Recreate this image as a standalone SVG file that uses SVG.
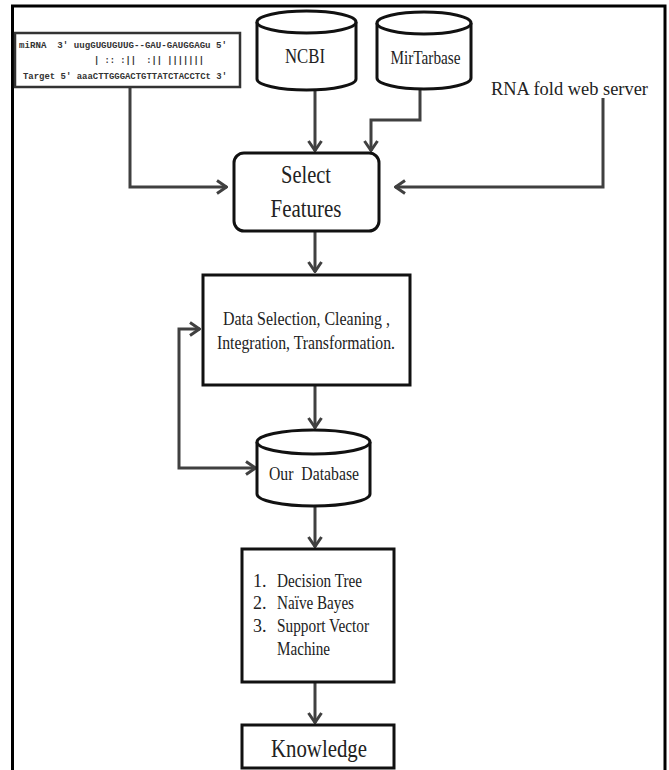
<svg xmlns="http://www.w3.org/2000/svg" width="669" height="770" viewBox="0 0 669 770">
<style>
.box{fill:#fff;stroke:#111;stroke-width:3}
.cyl{fill:#fff;stroke:#111;stroke-width:3}
.conn{fill:none;stroke:#404040;stroke-width:3}
.t{font-family:"Liberation Serif","Times New Roman",serif;fill:#222}
.m{font-family:"Liberation Mono","Courier New",monospace;font-weight:bold;font-size:9.5px;fill:#333}
</style>
<defs>
<marker id="ah" viewBox="0 0 12 16" refX="11" refY="8" markerWidth="12" markerHeight="16" markerUnits="userSpaceOnUse" orient="auto-start-reverse">
<path d="M1,1.5 L10.5,8 L1,14.5" fill="none" stroke="#404040" stroke-width="3"/>
</marker>
</defs>
<rect width="669" height="770" fill="#fff"/>
<path d="M12.5,775 V6 H665 V775" fill="none" stroke="#000" stroke-width="3"/>

<g id="connectors">
<path class="conn" d="M130,87 V187 H227" marker-end="url(#ah)"/>
<path class="conn" d="M315,90 V151" marker-end="url(#ah)"/>
<path class="conn" d="M420,89 V120 H371 V151" marker-end="url(#ah)"/>
<path class="conn" d="M603,98 V187 H395" marker-end="url(#ah)"/>
<path class="conn" d="M315,231 V272" marker-end="url(#ah)"/>
<path class="conn" d="M315,385 V428" marker-end="url(#ah)"/>
<path class="conn" d="M256,468 H179 V329 H200" marker-start="url(#ah)" marker-end="url(#ah)"/>
<path class="conn" d="M315,506 V547" marker-end="url(#ah)"/>
<path class="conn" d="M315,682 V723" marker-end="url(#ah)"/>
</g>

<g id="sequence">
<rect x="15" y="33" width="225" height="54" fill="#fff" stroke="#333" stroke-width="2.5"/>
<text class="m" x="19" y="48" textLength="208" lengthAdjust="spacingAndGlyphs" xml:space="preserve">miRNA  3' uugGUGUGUUG--GAU-GAUGGAGu 5'</text>
<text class="m" x="94" y="63" textLength="110" lengthAdjust="spacingAndGlyphs" xml:space="preserve">| :: :||  :|| |||||||</text>
<text class="m" x="23" y="79" textLength="204" lengthAdjust="spacingAndGlyphs" xml:space="preserve">Target 5' aaaCTTGGGACTGTTATCTACCTCt 3'</text>
</g>

<g id="ncbi">
<path class="cyl" d="M257,22 V79 A49.5,11 0 0 0 356,79 V22"/>
<ellipse class="cyl" cx="306.5" cy="22" rx="49.5" ry="11"/>
<text class="t" x="305" y="63" font-size="20" text-anchor="middle" textLength="40" lengthAdjust="spacingAndGlyphs">NCBI</text>
</g>

<g id="mirtarbase">
<path class="cyl" d="M377,23 V78 A47,11 0 0 0 471,78 V23"/>
<ellipse class="cyl" cx="424" cy="23" rx="47" ry="11"/>
<text class="t" x="425.5" y="64" font-size="18" text-anchor="middle" textLength="70" lengthAdjust="spacingAndGlyphs">MirTarbase</text>
</g>

<g id="rnafold">
<text class="t" x="491" y="95" font-size="19" textLength="157" lengthAdjust="spacingAndGlyphs">RNA fold web server</text>
</g>

<g id="select">
<rect class="box" x="234" y="153" width="145" height="78" rx="10"/>
<text class="t" x="306" y="183" font-size="25" text-anchor="middle" textLength="50" lengthAdjust="spacingAndGlyphs">Select</text>
<text class="t" x="306" y="217" font-size="25" text-anchor="middle" textLength="71" lengthAdjust="spacingAndGlyphs">Features</text>
</g>

<g id="dataprep">
<rect class="box" x="203" y="275" width="207" height="110"/>
<text class="t" x="306.5" y="325" font-size="19" text-anchor="middle" textLength="167" lengthAdjust="spacingAndGlyphs">Data Selection, Cleaning ,</text>
<text class="t" x="306" y="349" font-size="19" text-anchor="middle" textLength="178" lengthAdjust="spacingAndGlyphs">Integration, Transformation.</text>
</g>

<g id="database">
<path class="cyl" d="M257,442 V494 A56.5,12 0 0 0 370,494 V442"/>
<ellipse class="cyl" cx="313.5" cy="442" rx="56.5" ry="12"/>
<text class="t" x="314" y="480" font-size="19" text-anchor="middle" textLength="90" lengthAdjust="spacingAndGlyphs" xml:space="preserve">Our  Database</text>
</g>

<g id="models">
<rect class="box" x="242" y="549" width="152" height="133"/>
<text class="t" font-size="18">
<tspan x="253" y="587">1.</tspan><tspan x="277" y="587" textLength="85" lengthAdjust="spacingAndGlyphs">Decision Tree</tspan>
<tspan x="253" y="609">2.</tspan><tspan x="277" y="609" textLength="77" lengthAdjust="spacingAndGlyphs">Naïve Bayes</tspan>
<tspan x="253" y="632">3.</tspan><tspan x="277" y="632" textLength="92" lengthAdjust="spacingAndGlyphs">Support Vector</tspan>
<tspan x="277" y="655" textLength="53" lengthAdjust="spacingAndGlyphs">Machine</tspan>
</text>
</g>

<g id="knowledge">
<rect class="box" x="242" y="725" width="152" height="43"/>
<text class="t" x="319" y="757" font-size="25" text-anchor="middle" textLength="96" lengthAdjust="spacingAndGlyphs">Knowledge</text>
</g>
</svg>
